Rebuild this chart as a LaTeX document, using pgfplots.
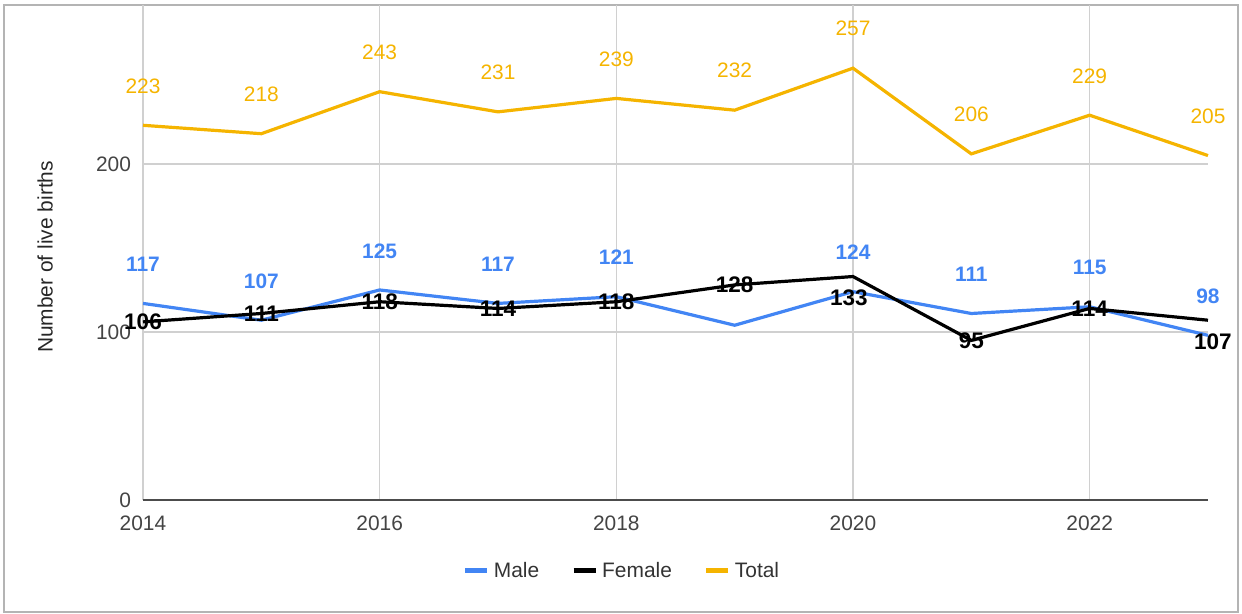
\documentclass[border=0pt]{standalone}
\usepackage{pgfplots}
\pgfplotsset{compat=1.18}
\usepackage{pgfplotstable}
\usepackage{fontspec}
\setmainfont{Liberation Sans}
\definecolor{male}{HTML}{4285F4}
\definecolor{total}{HTML}{F5B400}
\definecolor{gridc}{HTML}{D0D0D0}
\definecolor{txt}{HTML}{444444}
\definecolor{framec}{HTML}{B4B4B4}

\pgfplotstableread{
year male female total
2014 117 106 223
2015 107 111 218
2016 125 118 243
2017 117 114 231
2018 121 118 239
2019 104 128 232
2020 124 133 257
2021 111 95 206
2022 115 114 229
2023 98 107 205
}\births

\pgfplotstableread{
year v
2014 117
2015 107
2016 125
2017 117
2018 121
2020 124
2021 111
2022 115
2023 98
}\malelab

\pgfplotstableread{
year v dy dx
2014 106 0 0
2015 111 0 0
2016 118 0 0
2017 114 0 0
2018 118 0 0
2019 128 0 0
2020 133 -10.5 -2
2021 95 0 0
2022 114 0 0
2023 107 -11 2.5
}\femlab

\newcommand{\lab}{\fontsize{10.5}{12}\selectfont}
\newcommand{\flab}{\fontsize{11.3}{13}\selectfont}

\begin{document}
\begin{tikzpicture}
\useasboundingbox (-71.5bp,-57bp) rectangle (549.5bp,250bp);
\draw[framec, line width=1bp] (-69.5bp,-56bp) rectangle (547.5bp,247.5bp);
\begin{axis}[
  at={(0,0)}, anchor=south west, scale only axis,
  width=532.5bp, height=247.5bp,
  xmin=2014, xmax=2023, ymin=0, ymax=294.6,
  xtick={2014,2016,2018,2020,2022}, ytick={0,100,200},
  axis line style={draw=none},
  major tick length=0pt,
  grid=major, major grid style={gridc, line width=0.7bp},
  /pgf/number format/1000 sep={},
  /pgf/number format/assume math mode=true,
  ticklabel style={font=\lab, text=txt},
  xticklabel style={anchor=base, yshift=-15.3bp},
  yticklabel style={xshift=-2.5bp},
  ylabel={Number of live births},
  every axis y label/.style={at={(axis description cs:-0.092,0.491)}, rotate=90, anchor=center, font=\lab, text=black!85},
  clip=false,
  legend columns=3,
  legend style={at={(0.4507,-0.1434)}, anchor=center, draw=none, fill=none,
    font=\lab, text=black!80,
    /tikz/every even column/.append style={column sep=14bp}},
  legend image code/.code={\draw[#1, line width=2.5bp] (0bp,0bp) -- (11bp,0bp);},
]
\draw[black!70, line width=1bp] (axis cs:2014,0) -- (axis cs:2023,0);
\addplot[male, line width=1.6bp, mark=none] table[x=year, y=male] {\births};
\addlegendentry{Male}
\addplot[black, line width=1.6bp, mark=none] table[x=year, y=female] {\births};
\addlegendentry{Female}
\addplot[total, line width=1.6bp, mark=none] table[x=year, y=total] {\births};
\addlegendentry{Total}

\addplot[draw=none, mark=none, forget plot, nodes near coords, point meta=explicit symbolic,
  every node near coord/.style={anchor=center, yshift=19.5bp, font=\lab\bfseries, text=male}]
  table[x=year, y=v, meta=v] {\malelab};

\addplot[draw=none, mark=none, forget plot, nodes near coords, point meta=explicit symbolic,
  every node near coord/.style={anchor=center, yshift=19.7bp, font=\lab, text=total}]
  table[x=year, y=total, meta=total] {\births};

\addplot[draw=none, mark=none, forget plot, nodes near coords, point meta=explicit symbolic,
  visualization depends on={\thisrow{dy} \as \dy},
  visualization depends on={\thisrow{dx} \as \dx},
  every node near coord/.style={anchor=center, yshift={\dy*1bp}, xshift={\dx*1bp}, font=\flab\bfseries, text=black}]
  table[x=year, y=v, meta=v] {\femlab};
\end{axis}
\end{tikzpicture}
\end{document}
